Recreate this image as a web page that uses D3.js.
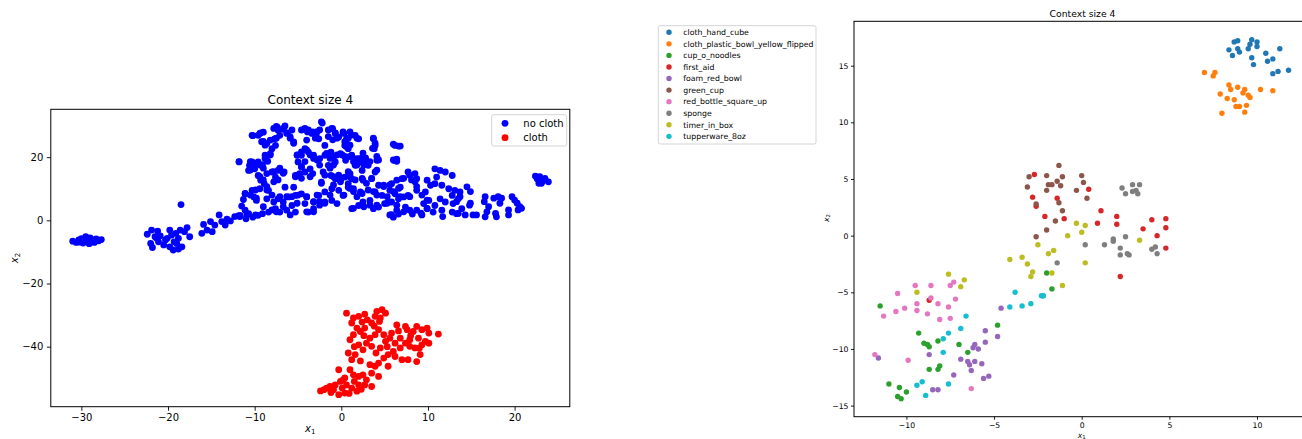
<!DOCTYPE html>
<html><head><meta charset="utf-8">
<script src="https://cdn.jsdelivr.net/npm/d3@7"></script>
<style>
html,body{margin:0;padding:0;background:#fff;overflow:hidden}
svg{display:block;font-family:"DejaVu Sans",sans-serif}
</style></head><body>
<svg id="fig" width="1302" height="439"></svg>
<script>
// ---------- t-SNE embedding, left panel: cloth vs no cloth ----------
const leftTitle = "Context size 4";
const leftSeriesNames = ["no cloth", "cloth"];
const leftXTicks = [-30, -20, -10, 0, 10, 20];
const leftYTicks = [20, 0, -20, -40];

const noCloth = [
  [-31.0,-6.6],[-30.6,-7.0],[-30.3,-6.2],[-30.0,-5.8],[-29.7,-6.8],[-29.5,-5.2],[-29.3,-6.5],[-29.1,-7.4],[-29.0,-5.6],
  [-28.7,-6.2],[-28.5,-7.0],[-28.3,-5.9],[-28.0,-6.5],[-27.7,-6.1],[-29.8,-7.2],[-30.2,-6.9],[-29.2,-6.0],[-28.8,-6.8],
  [-18.5,5.0],
  [-22.4,-4.4],[-21.9,-3.1],[-21.2,-3.4],[-20.9,-4.9],[-21.5,-5.2],[-22.0,-7.3],[-21.8,-8.6],[-21.1,-6.8],[-20.5,-7.8],
  [-20.1,-5.7],[-19.8,-3.1],[-19.6,-4.7],[-19.1,-4.1],[-18.8,-5.7],[-19.3,-6.8],[-19.8,-8.4],[-19.4,-9.4],[-18.8,-9.1],
  [-18.4,-8.4],[-18.6,-3.1],[-18.1,-3.6],[-17.8,-2.3],[-17.5,-5.2],[-19.0,-7.3],[-20.3,-6.2],[-21.3,-5.7],
  [-16.1,-4.1],[-15.9,-1.3],[-15.5,-3.1],[-15.1,-0.4],[-14.9,-3.6],[-14.6,-1.5],[-14.1,1.7],[-13.8,-0.4],[-13.4,-1.5],
  [-13.2,0.4],[-12.8,-0.2],[-11.9,1.4],
  [-2.2,30.8],[-1.0,29.0],[-0.7,27.7],[-4.2,28.8],[-3.9,28.0],[-3.3,28.0],[-2.9,27.1],[-6.5,29.9],[-6.7,28.8],
  [-6.2,27.7],[-5.9,26.4],[-5.5,24.8],[-7.4,29.5],[-7.3,28.5],[-7.1,26.9],[-7.7,25.8],[-9.3,27.7],[-9.6,26.9],
  [-10.3,26.9],[-9.0,25.0],[-8.6,24.3],[-8.0,22.7],[-7.6,23.7],[-8.2,21.1],[-8.8,20.6],[-8.5,18.7],[-9.1,17.6],
  [-9.6,18.5],[-10.3,18.5],[-10.6,17.4],[-10.7,15.8],[-11.8,18.5],[-10.0,16.3],[-9.6,14.2],[-9.3,12.7],[-8.9,11.6],
  [-8.6,14.8],[-8.0,15.3],[-7.3,15.8],[-6.6,15.3],[-7.6,13.7],[-9.4,10.0],[-10.3,9.5],[-11.1,8.4],[-11.3,6.6],
  [-10.1,7.4],[-9.8,6.3],[-8.4,9.5],[-8.6,6.8],[-7.8,5.8],[-7.3,6.8],[-6.7,5.8],[-6.1,7.4],[-5.3,7.9],[-4.6,8.4],
  [-4.0,7.4],[-7.6,3.7],[-7.1,2.6],[-6.3,3.2],[-5.7,4.7],[-5.3,2.6],[-8.4,2.6],[-9.1,2.1],[-9.6,1.6],[-10.7,2.1],
  [-11.7,1.6],[-11.1,3.2],[-5.3,14.2],[-4.8,14.8],[-4.2,15.3],[-3.6,16.3],[-3.3,14.8],[-5.0,18.5],[-4.6,20.6],
  [-3.8,21.6],[-4.2,22.7],[-3.2,20.6],[-2.5,19.5],[-1.9,20.6],[-1.2,21.6],[-0.9,20.0],[-0.1,21.1],[-0.7,18.5],
  [-1.5,17.4],[-2.1,15.3],[-1.2,14.2],[-0.7,13.2],[-0.1,12.7],[0.4,13.7],[-2.3,12.1],[-1.9,9.0],[-1.1,10.0],
  [-0.3,9.5],[0.2,7.9],[0.8,10.5],[-2.6,7.9],[-3.2,5.8],[-4.2,5.3],[-1.9,5.8],[-1.1,6.3],[-0.5,5.3],[-3.2,3.7],
  [-3.8,2.6],[0.2,28.0],[-0.3,26.4],[0.6,25.8],[0.4,23.7],[-1.9,23.7],[-2.6,25.8],[-5.1,20.6],[-4.6,16.9],
  [-6.5,10.5],[-5.5,10.5],[-1.5,26.5],[-1.0,25.5],[-12.3,1.2],[-11.0,0.5],[-10.2,1.0],[-11.5,4.5],
  [1.0,28.0],[1.6,26.9],[2.0,25.8],[0.6,24.3],[0.8,22.7],[3.7,25.8],[3.9,23.7],[3.8,22.7],[6.2,23.7],[6.8,23.5],
  [6.1,19.0],[6.4,18.7],[1.2,20.6],[1.8,19.5],[2.2,18.5],[2.7,18.5],[3.1,17.4],[1.6,17.4],[2.4,15.8],[1.0,14.8],
  [3.9,15.3],[4.1,19.0],[1.2,13.2],[0.8,11.6],[1.4,10.0],[2.2,9.0],[2.5,12.7],[3.5,13.2],[4.3,11.1],[3.9,9.0],
  [4.7,7.9],[3.3,6.3],[2.5,5.8],[2.0,4.7],[1.2,3.7],[5.0,5.3],[3.7,3.7],[4.3,4.2],[4.9,11.1],[5.8,11.6],[5.6,9.5],
  [6.4,12.7],[7.0,13.2],[6.8,10.5],[6.2,8.4],[6.6,6.8],[7.2,7.4],[7.7,7.9],[5.8,5.8],[6.4,3.2],[6.0,1.0],[7.4,4.2],
  [7.9,3.2],[8.7,3.2],[7.7,15.3],[8.5,14.8],[8.7,13.2],[8.7,9.5],[9.9,12.7],[10.3,11.1],[9.7,9.0],[10.1,6.3],
  [9.5,5.3],[9.9,3.7],[10.6,2.6],[10.8,16.3],[11.4,15.8],[12.0,15.3],[12.8,14.2],[11.0,13.7],[10.8,11.6],[11.6,11.1],
  [12.4,10.0],[13.1,9.5],[13.7,9.0],[12.8,7.9],[11.4,6.8],[12.0,5.8],[12.9,5.3],[13.5,6.8],[10.8,4.7],[11.6,3.2],
  [12.8,2.6],[13.3,2.1],[13.9,3.7],[2.8,19.8],[1.5,18.5],[2.5,21.3],[0.5,19.0],[5.8,1.8],[6.6,2.0],[9.2,2.3],[8.2,2.0],
  [11.7,1.2],[14.8,4.8],
  [13.7,7.5],[13.3,5.9],[13.5,2.2],[14.3,1.7],[14.5,10.6],[14.9,9.1],[14.9,5.4],[15.2,1.7],[15.6,1.7],[16.6,7.5],
  [16.5,5.9],[17.0,4.3],[16.8,2.7],[16.6,1.1],[17.6,7.0],[18.1,7.5],[18.5,7.0],[18.3,5.4],[17.8,2.2],[17.9,1.1],
  [19.3,3.3],[19.3,1.7],[19.7,7.5],[20.0,6.4],[20.3,5.4],[20.6,4.3],[20.8,3.8],[20.4,3.3],
  [22.4,14.0],[22.9,13.8],[23.5,13.3],[23.9,12.2],[23.1,11.7],[22.8,11.7],[22.6,13.2],[23.3,12.6],
  // central mass, second pass
  [-10.2,26.8],[-9.4,27.5],[-9.0,27.9],[-9.2,24.9],[-8.8,23.8],[-8.2,25.4],[-7.8,29.1],[-7.5,29.7],[-7.5,26.0],
  [-6.7,29.1],[-6.3,27.5],[-5.9,26.0],[-5.7,28.6],[-5.5,24.4],[-4.6,28.6],[-4.2,29.1],[-3.8,28.6],[-3.4,27.5],
  [-4.0,25.4],[-3.0,26.0],[-2.8,28.1],[-2.3,31.2],[-2.5,28.6],[-1.5,28.6],[-1.1,29.1],[-0.7,27.5],[-0.5,26.0],
  [0.3,27.5],[0.4,24.9],[0.8,26.0],[1.2,27.0],[1.8,26.0],[0.6,23.3],[1.0,23.8],[3.7,26.0],[3.9,24.4],[3.6,22.8],
  [6.0,24.1],[6.6,23.5],[6.0,19.1],[6.4,19.4],
  [-11.8,18.6],[-10.5,18.6],[-10.1,17.5],[-10.5,15.9],[-9.4,17.5],[-8.8,19.6],[-8.2,20.7],[-9.0,16.5],[-7.8,15.4],
  [-7.1,16.5],[-6.7,14.9],[-5.1,20.7],[-4.6,21.7],[-4.0,22.3],[-3.6,20.7],[-4.2,18.6],[-4.6,17.0],[-3.2,19.6],
  [-2.8,19.1],[-2.5,17.5],[-1.7,21.2],[-1.3,19.6],[-0.9,17.5],[-0.5,20.7],[0.1,20.7],[0.4,20.2],[1.0,20.2],
  [1.4,18.6],[1.8,17.5],[2.6,17.5],[2.2,19.6],[2.8,19.1],[3.3,18.6],[4.1,20.2],[4.3,19.1],[-1.3,16.5],[-0.9,13.8],
  [-0.3,14.3],[-0.1,12.2],[0.8,15.4],[1.0,13.8],[1.6,12.8],[2.4,13.3],[2.9,11.7],[3.5,13.3],[4.1,15.9],[-5.1,14.3],
  [-4.6,13.3],[-3.6,13.8],[-5.3,13.8],[-2.3,11.7],[-1.9,14.3],[-0.9,11.2],[-9.4,13.8],[-9.0,12.8],[-8.6,10.7],
  [-7.8,12.2],[-7.3,12.8],
  [-11.1,8.5],[-10.5,8.0],[-9.9,9.6],[-9.8,7.0],[-8.6,9.6],[-8.0,8.0],[-7.1,7.5],[-6.3,7.5],[-5.7,7.5],[-5.0,8.0],
  [-4.0,7.5],[-2.8,8.0],[-2.5,5.9],[-3.2,5.9],[-1.9,5.4],[-1.3,8.0],[0.3,8.0],[1.0,10.1],[1.4,9.1],[1.8,7.5],
  [2.4,8.5],[3.1,9.6],[3.7,9.1],[4.1,8.0],[4.9,10.7],[5.3,7.5],[5.6,11.2],[6.0,9.1],[6.6,10.1],[6.8,7.5],[7.2,13.3],
  [7.9,14.3],[8.1,12.8],[8.5,12.2],[8.7,10.7],[9.3,8.0],[9.9,6.4],[7.9,7.5],[6.4,4.8],[5.3,5.4],[4.1,4.8],[3.3,4.8],
  [2.6,4.3],[1.4,3.8],[-9.0,4.3],[-9.9,1.7],[-10.9,1.7],[-11.7,1.2],[-8.0,3.3],[-7.5,2.7],[-6.7,4.3],[-5.9,1.7],
  [-5.1,5.4],[-4.0,2.7],[-3.2,2.7],[-2.5,4.8],[9.9,3.8],[9.3,1.7],[7.2,2.7],[5.6,1.7]
];

const cloth = [
  [0.6,-29.4],[1.4,-30.9],[2.0,-30.4],[2.7,-29.7],[2.4,-32.2],[1.2,-32.5],[1.8,-34.1],[2.2,-35.2],[1.0,-37.8],
  [1.4,-36.2],[2.7,-34.1],[3.5,-32.5],[4.1,-28.8],[4.7,-28.3],[5.1,-29.4],[4.5,-30.9],[3.9,-30.4],[4.3,-34.6],
  [3.9,-36.2],[3.3,-37.3],[2.9,-38.9],[2.0,-39.4],[2.5,-41.0],[1.6,-42.5],[1.2,-44.1],[3.5,-39.9],[4.5,-40.4],
  [5.1,-38.3],[4.9,-36.2],[5.6,-37.3],[5.8,-35.7],[6.2,-38.9],[6.4,-33.1],[7.4,-33.6],[7.6,-34.6],[8.3,-35.2],
  [8.7,-33.6],[9.3,-34.6],[9.9,-34.1],[10.1,-35.7],[11.2,-36.0],[9.7,-38.3],[10.1,-38.9],[8.9,-37.3],[7.9,-37.8],
  [7.4,-38.9],[6.8,-40.4],[6.0,-41.5],[5.4,-42.5],[4.9,-43.6],[4.3,-45.2],[3.9,-46.2],[3.3,-45.7],[3.5,-48.4],
  [4.3,-49.4],[7.0,-44.1],[7.7,-44.1],[8.7,-44.7],[9.1,-42.5],[6.2,-43.1],[5.4,-46.2],[0.8,-42.0],[-0.3,-47.3],
  [1.0,-47.3],[1.4,-48.9],[2.0,-49.4],[2.5,-48.9],[0.4,-49.9],[-0.1,-51.0],[-0.7,-52.1],[-1.3,-52.6],[-1.7,-53.1],
  [-0.9,-53.6],[0.1,-53.1],[0.6,-52.1],[1.2,-53.1],[2.0,-52.1],[2.7,-52.1],[3.5,-52.6],[1.8,-54.1],[0.4,-54.7],
  [-0.3,-55.2],[2.9,-50.5],[6.8,-37.3],[7.9,-39.9],[8.5,-40.4],[9.3,-39.4],
  [-2.4,-54.0],[-2.0,-53.6],[-1.2,-54.5],[0.9,-54.8],[1.5,-51.0],[0.2,-50.5],[2.3,-53.5],
  [3.0,-31.5],[3.8,-33.5],[4.4,-32.0],[5.3,-40.0],[4.0,-42.0],[2.2,-44.5],[6.6,-35.0],[8.0,-36.5],[9.0,-40.5],
  [2.6,-36.5],[1.5,-40.0]
];

// ---------- t-SNE embedding, right panel: per object ----------
const rightTitle = "Context size 4";
const objectNames = [
  "cloth_hand_cube", "cloth_plastic_bowl_yellow_flipped", "cup_o_noodles", "first_aid", "foam_red_bowl",
  "green_cup", "red_bottle_square_up", "sponge", "timer_in_box", "tupperware_8oz"
];
const rightXTicks = [-10, -5, 0, 5, 10];
const rightYTicks = [15, 10, 5, 0, -5, -10, -15];

const clothHandCube = [
  [8.4,16.4],[8.6,15.9],[8.7,17.1],[8.9,17.2],[8.9,16.5],[9.0,16.2],[9.5,16.5],[9.6,16.9],[9.7,17.3],[9.7,15.7],
  [9.8,15.1],[10.0,17.1],[10.0,16.7],[10.5,16.1],[10.6,15.4],[10.9,15.6],[10.9,14.3],[11.2,14.5],[11.3,16.5],[11.8,14.6]
];
const clothPlasticBowl = [
  [7.0,14.4],[7.5,14.1],[7.6,14.4],[7.9,12.5],[8.0,10.8],[8.3,12.1],[8.4,13.3],[8.5,12.9],[8.7,12.0],[8.8,11.4],
  [8.9,13.1],[9.0,11.4],[9.2,12.6],[9.3,12.9],[9.3,10.9],[9.4,11.5],[9.5,12.4],[9.6,12.2],[10.2,12.9],[10.9,12.8]
];
const cupONoodles = [
  [-2.0,-3.3],[-1.7,-4.7],[-2.2,-5.3],[-11.5,-6.2],[-4.8,-7.9],[-9.3,-8.6],[-9.0,-9.5],[-8.8,-9.6],[-8.7,-9.8],
  [-8.2,-9.3],[-7.0,-9.6],[-6.5,-10.3],[-8.7,-11.8],[-8.1,-11.5],[-8.2,-11.8],[-11.0,-13.1],[-10.4,-13.4],
  [-10.0,-13.8],[-10.5,-14.2],[-10.3,-14.4]
];
const firstAid = [
  [-2.7,5.4],[-2.8,3.4],[-2.6,2.6],[-2.1,1.7],[-1.4,3.3],[-1.0,1.5],[0.4,4.1],[1.1,2.2],[0.9,1.1],[2.0,1.7],
  [2.0,1.0],[3.5,0.6],[4.0,1.4],[4.8,1.5],[4.8,0.7],[4.3,0.0],[4.8,-1.1],[2.2,-3.6],[-8.7,-5.7]
];
const foamRedBowl = [
  [-4.6,-6.4],[-5.5,-8.4],[-4.8,-8.9],[-5.5,-9.4],[-6.1,-9.6],[-5.9,-10.0],[-6.2,-9.9],[-8.7,-10.5],[-11.6,-10.8],
  [-6.9,-10.9],[-6.5,-11.1],[-6.4,-11.4],[-6.1,-11.1],[-5.7,-11.3],[-6.3,-11.9],[-7.3,-12.3],[-5.6,-12.6],
  [-5.3,-12.4],[-8.5,-13.6],[-8.2,-13.6]
];
const greenCup = [
  [-3.1,4.3],[-3.0,5.2],[-2.6,2.8],[-2.0,5.3],[-2.0,4.0],[-1.9,4.5],[-1.7,4.5],[-1.4,4.8],[-1.3,6.2],[-1.2,4.4],
  [-1.1,5.2],[-1.3,2.9],[-1.1,2.2],[-1.5,1.3],[-2.0,0.5],[-0.3,4.0],[0.0,5.3],[0.1,4.7],[0.3,3.3],[-2.6,-0.1]
];
const redBottle = [
  [-9.5,-4.4],[-8.6,-4.4],[-10.5,-5.1],[-9.4,-6.0],[-8.6,-5.5],[-8.2,-6.0],[-7.5,-4.4],[-7.3,-4.1],[-7.2,-5.6],
  [-7.6,-6.3],[-7.5,-7.3],[-8.1,-7.4],[-8.8,-6.9],[-9.4,-6.6],[-10.1,-6.4],[-10.6,-6.7],[-11.3,-7.1],[-11.8,-10.5],
  [-9.9,-11.0],[-6.3,-13.5]
];
const sponge = [
  [2.3,4.2],[2.5,3.7],[2.9,4.5],[2.9,3.9],[3.1,4.0],[3.2,3.7],[3.3,4.5],[0.2,-0.8],[1.3,-0.8],[1.8,-0.3],
  [1.8,-0.5],[2.2,-1.1],[2.2,-1.7],[2.5,-0.1],[2.6,-1.6],[2.7,-1.7],[4.0,-1.2],[4.2,-1.0],[4.3,-1.6],[-1.4,-2.4]
];
const timerInBox = [
  [-0.3,1.1],[0.2,0.9],[0.0,0.3],[-0.8,0.0],[3.3,-0.4],[-2.5,-0.8],[-1.9,-1.6],[-1.6,-1.3],[-4.1,-2.1],[-3.4,-1.9],
  [-3.1,-2.5],[-2.8,-3.2],[-2.9,-3.6],[-1.7,-3.3],[-1.1,-4.4],[0.2,-2.4],[-7.6,-3.4],[-6.7,-3.9],[-6.9,-4.5],[-9.4,-5.0]
];
const tupperware8oz = [
  [-3.8,-5.0],[-4.1,-6.3],[-3.4,-6.2],[-2.9,-6.0],[-2.3,-5.3],[-2.2,-5.3],[-6.6,-7.1],[-6.9,-8.2],[-7.6,-8.6],
  [-7.9,-9.1],[-7.9,-10.3],[-7.6,-13.1],[-9.1,-12.9],[-9.4,-13.2],[-8.9,-14.1]
];
const objectSeries = [clothHandCube, clothPlasticBowl, cupONoodles, firstAid, foamRedBowl,
  greenCup, redBottle, sponge, timerInBox, tupperware8oz];

// ---------- drawing ----------
const svg = d3.select("#fig");
const fmt = d3.format("d");

function drawPanel(cfg) {
  const x = d3.scaleLinear().domain(cfg.xDomain).range([cfg.left, cfg.right]);
  const y = d3.scaleLinear().domain(cfg.yDomain).range([cfg.bottom, cfg.top]);
  const g = svg.append("g");

  // points
  cfg.series.forEach(s => {
    g.append("g").selectAll("circle").data(s.points).join("circle")
      .attr("cx", d => x(d[0])).attr("cy", d => y(d[1]))
      .attr("r", cfg.r).attr("fill", s.color);
  });

  // axes
  const xa = g.append("g").attr("transform", `translate(0,${cfg.bottom})`)
    .call(d3.axisBottom(x).tickValues(cfg.xTicks).tickFormat(fmt).tickSize(cfg.tick).tickPadding(cfg.pad));
  const ya = g.append("g").attr("transform", `translate(${cfg.left},0)`)
    .call(d3.axisLeft(y).tickValues(cfg.yTicks).tickFormat(fmt).tickSize(cfg.tick).tickPadding(cfg.pad));
  [xa, ya].forEach(a => {
    a.select(".domain").remove();
    a.selectAll(".tick line").attr("stroke", "#000").attr("stroke-width", 0.9);
    a.selectAll(".tick text").attr("fill", "#000").attr("font-size", cfg.fs)
      .attr("font-family", "DejaVu Sans, sans-serif");
  });

  // frame
  g.append("rect").attr("x", cfg.left).attr("y", cfg.top)
    .attr("width", cfg.right - cfg.left).attr("height", cfg.bottom - cfg.top)
    .attr("fill", "none").attr("stroke", "#000").attr("stroke-width", 1);

  // title
  g.append("text").attr("x", (cfg.left + cfg.right) / 2).attr("y", cfg.titleY)
    .attr("text-anchor", "middle").attr("font-size", cfg.fs * 1.2).text(cfg.title);

  // axis labels x_1, x_2
  const xl = g.append("text").attr("x", cfg.xLabel[0]).attr("y", cfg.xLabel[1])
    .attr("text-anchor", "middle").attr("font-size", cfg.fs);
  xl.append("tspan").attr("font-style", "italic").text("x");
  xl.append("tspan").attr("font-size", cfg.fs * 0.7).attr("dy", cfg.fs * 0.22).text("1");
  const yl = g.append("text")
    .attr("transform", `translate(${cfg.yLabel[0]},${cfg.yLabel[1]}) rotate(-90)`)
    .attr("text-anchor", "middle").attr("font-size", cfg.fs);
  yl.append("tspan").attr("font-style", "italic").text("x");
  yl.append("tspan").attr("font-size", cfg.fs * 0.7).attr("dy", cfg.fs * 0.22).text("2");
}

function drawLegend(cfg) {
  const g = svg.append("g");
  g.append("rect").attr("x", cfg.x0).attr("y", cfg.y0)
    .attr("width", cfg.x1 - cfg.x0).attr("height", cfg.y1 - cfg.y0)
    .attr("rx", 2).attr("fill", "#fff").attr("fill-opacity", 0.8)
    .attr("stroke", "#d0d0d0").attr("stroke-width", 0.9);
  const rows = g.selectAll("g").data(cfg.items).join("g")
    .attr("transform", (d, i) => `translate(0,${cfg.firstY + i * cfg.step})`);
  rows.append("circle").attr("cx", cfg.markerX).attr("cy", 0).attr("r", cfg.r).attr("fill", d => d.color);
  rows.append("text").attr("x", cfg.textX).attr("y", 0).attr("dy", "0.35em")
    .attr("font-size", cfg.fs).attr("fill", "#000").text(d => d.name);
}

// left panel
drawPanel({
  left: 50.8, right: 569.8, top: 109.3, bottom: 406.7,
  xDomain: [-33.53, 26.37], yDomain: [-59.0, 35.15],
  xTicks: leftXTicks, yTicks: leftYTicks,
  series: [{points: noCloth, color: "#0000ff"}, {points: cloth, color: "#ff0000"}],
  r: 3.4, tick: 4, pad: 3.5, fs: 10,
  title: leftTitle, titleY: 104,
  xLabel: [310.3, 432], yLabel: [17.5, 258]
});
drawLegend({
  x0: 491.7, x1: 566.7, y0: 114.7, y1: 146,
  items: leftSeriesNames.map((n, i) => ({name: n, color: ["#0000ff", "#ff0000"][i]})),
  firstY: 123.3, step: 14.4, markerX: 505, textX: 523.3, r: 3.4, fs: 10
});

// right panel
drawPanel({
  left: 854, right: 1311, top: 21.3, bottom: 416.7,
  xDomain: [-12.99, 13.08], yDomain: [-15.98, 18.92],
  xTicks: rightXTicks, yTicks: rightYTicks,
  series: objectSeries.map((p, i) => ({points: p, color: d3.schemeCategory10[i]})),
  r: 2.7, tick: 3, pad: 2.5, fs: 7.7,
  title: rightTitle, titleY: 16.5,
  xLabel: [1081.7, 437.5], yLabel: [828.5, 218]
});
drawLegend({
  x0: 658.3, x1: 816, y0: 25.7, y1: 144,
  items: objectNames.map((n, i) => ({name: n, color: d3.schemeCategory10[i]})),
  firstY: 32.3, step: 11.56, markerX: 669, textX: 683.3, r: 2.7, fs: 7.8
});
</script>
</body></html>
